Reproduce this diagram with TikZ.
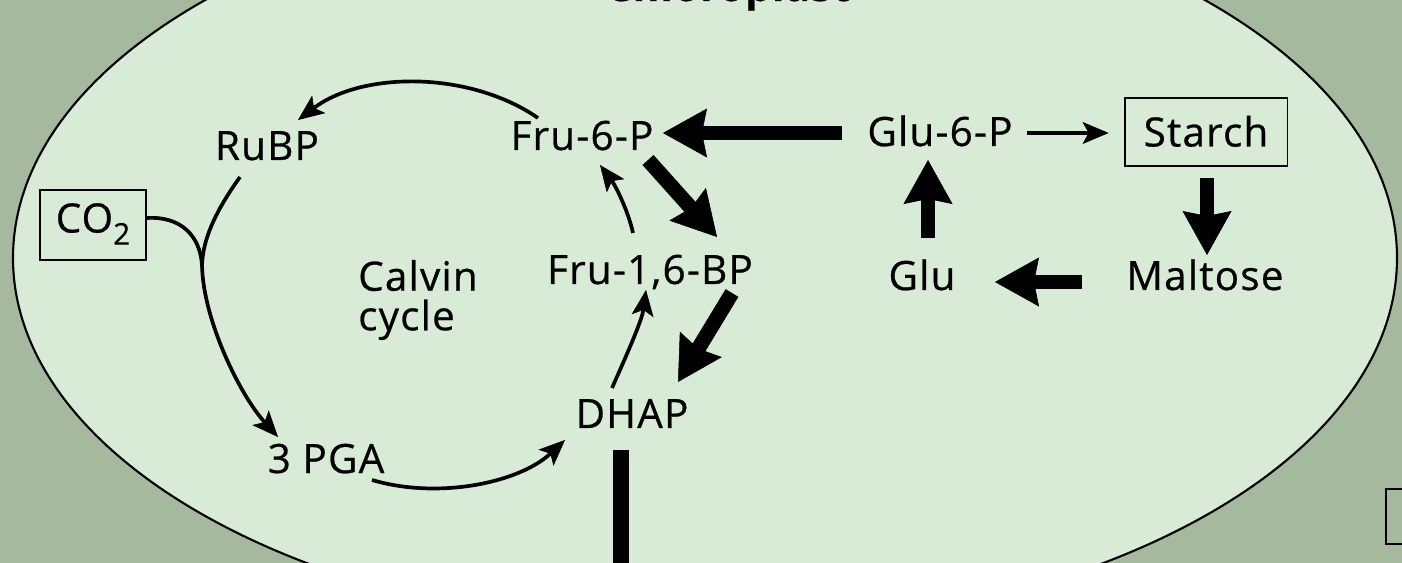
\documentclass[tikz,border=0pt]{standalone}
\usepackage{fontspec}
\setmainfont{Open Sans}[LetterSpace=3,FakeBold=0.6]
\usetikzlibrary{arrows.meta,calc}
\definecolor{stroma}{RGB}{216,235,214}
\definecolor{cytosol}{RGB}{164,185,158}

\begin{document}
\begin{tikzpicture}[x=0.02cm,y=-0.02cm,
  metab/.style={inner sep=0pt, anchor=base, font=\fontsize{23}{26}\selectfont},
  boxed/.style={draw, line width=1.1pt, inner sep=0pt, font=\fontsize{23}{26}\selectfont},
  thinarrow/.style={line width=2.1pt,
    -{Stealth[length=0.52cm,width=0.44cm,inset=0.12cm,line width=0.3pt]}},
  boldarrow/.style={line width=8.5pt,
    -{Stealth[length=0.88cm,width=0.98cm,inset=0.1cm,line width=0.3pt]}},
  ]
  % page and cytosol background
  \fill[cytosol] (0,0) rectangle (1402,563);
  \useasboundingbox (0,0) rectangle (1402,563);

  % chloroplast envelope
  \draw[fill=stroma, line width=1.2pt] (705,258) ellipse [x radius=692, y radius=373];
  \node[metab, font=\fontsize{23}{26}\selectfont\bfseries] (title) at (728,1) {Chloroplast};

  % metabolites
  \node[metab] (rubp)   at (267,160) {RuBP};
  \node[metab] (fru6p)  at (582,150) {Fru-6-P};
  \node[metab] (glu6p)  at (940,146) {Glu-6-P};
  \node[boxed, minimum width=3.26cm, minimum height=1.36cm,
        text height=0.58cm, text depth=0pt] (starch) at (1206,132) {Starch};
  \node[boxed, minimum width=2.12cm, minimum height=1.4cm,
        text height=0.56cm, text depth=0.26cm] (co2) at (93,225)
        {CO\raisebox{-0.3em}{\fontsize{17}{17}\selectfont 2}};
  \node[metab, anchor=center, align=left, font=\fontsize{23}{22.5}\selectfont]
        (calvin) at (418,300) {Calvin\\cycle};
  \node[metab] (fru16bp) at (650,284) {Fru-1,6-BP};
  \node[metab] (glu)     at (922,290) {Glu};
  \node[metab] (maltose) at (1205,290) {Maltose};
  \node[metab] (dhap)    at (632,428) {DHAP};
  \node[metab] (pga)     at (326,473) {3 PGA};
  \coordinate (export) at (621,580);

  % Calvin cycle connectors
  \draw[thinarrow] ($(fru6p.base)+(-44,-32)$)
     .. controls (470,71) and (363,71) .. ($(rubp.base)+(31,-40)$);
  \draw[thinarrow] ($(rubp.base)+(-27,17)$)
     .. controls (220,205) and (203,235) .. (202,265) coordinate (co2join)
     .. controls (203,320) and (240,395) .. ($(pga.base)+(-48,-36)$);
  \draw[line width=2.1pt] ($(co2.east)+(0,-7)$)
     .. controls (180,216) and (200,235) .. (co2join);
  \draw[thinarrow] ($(pga.base)+(46,7)$)
     .. controls (440,500) and (520,482) .. ($(dhap.base)+(-67,12)$);
  \draw[thinarrow] ($(dhap.base)+(-20,-40)$)
     .. controls (628,352) and (642,320) .. ($(fru16bp.base)+(-4,6)$);
  \draw[thinarrow] ($(fru16bp.base)+(-17,-51)$)
     .. controls (628,210) and (615,185) .. ($(fru6p.base)+(18,15)$);
  \draw[boldarrow] ($(fru6p.base)+(66,10)$) -- ($(fru16bp.base)+(67,-47)$);
  \draw[boldarrow] ($(fru16bp.base)+(82,9)$) -- ($(dhap.base)+(46,-46)$);

  % starch synthesis and breakdown
  \draw[boldarrow] ($(glu6p.base)+(-98,-13)$) -- ($(fru6p.base)+(81,-17)$);
  \draw[thinarrow] ($(glu6p.base)+(87,-13)$) -- ($(starch.west)+(-15,1)$);
  \draw[boldarrow] ($(starch.south)+(1,11)$) -- ($(maltose.base)+(2,-35)$);
  \draw[boldarrow] ($(maltose.base)+(-123,-8)$) -- ($(glu.base)+(73,-8)$);
  \draw[boldarrow] ($(glu.base)+(6,-52)$) -- ($(glu6p.base)+(-12,14)$);

  % triose phosphate leaving the chloroplast
  \draw[line width=9pt] ($(dhap.base)+(-11,22)$) -- (export);

  % neighbouring compartment at the edge
  \draw[line width=1.1pt] (1440,489) -- (1386,489) -- (1386,544) -- (1440,544);
\end{tikzpicture}
\end{document}
